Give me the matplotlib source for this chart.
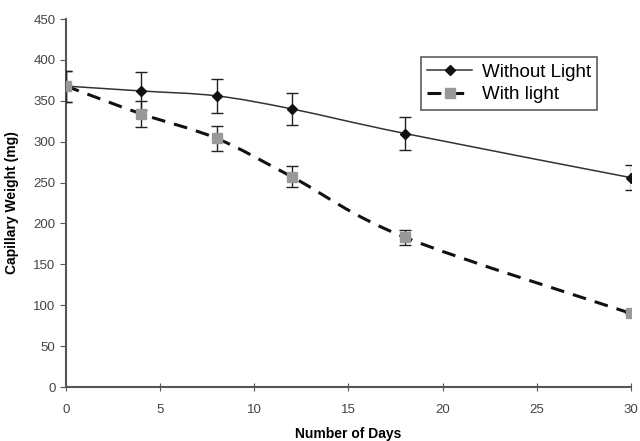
import matplotlib.pyplot as plt
import numpy as np
from matplotlib.path import Path
from matplotlib.patches import PathPatch

plt.rcParams['font.family'] = ['Liberation Sans', 'DejaVu Sans']

days = [0, 4, 8, 12, 18, 30]
without_light = [368, 362, 356, 340, 310, 256]
without_err = [19, 23, 21, 20, 20, 15]
with_light = [368, 334, 304, 257, 183, 90]
with_err = [19, 16, 15, 13, 9, 0]


def smooth_path(ax, x, y):
    """Excel-like smoothed line: cubic bezier through the data points"""
    pts = ax.transData.transform(np.column_stack([x, y]))
    verts = [pts[0]]
    codes = [Path.MOVETO]
    n = len(pts)
    t = 1.0 / 6
    for i in range(n - 1):
        p0 = pts[max(i - 1, 0)]
        p1 = pts[i]
        p2 = pts[i + 1]
        p3 = pts[min(i + 2, n - 1)]
        c1 = p1 + (p2 - p0) * t
        c2 = p2 - (p3 - p1) * t
        verts += [c1, c2, p2]
        codes += [Path.CURVE4] * 3
    return Path(verts, codes)


fig = plt.figure(figsize=(6.4, 4.41), dpi=100)
ax = fig.add_axes([0.103, 0.1224, 0.883, 0.8345])
ax.set_xlim(0, 30)
ax.set_ylim(0, 450)

# error bars
ax.errorbar(days, without_light, yerr=without_err, fmt='none', ecolor='#222222',
            elinewidth=1, capsize=4, capthick=1, zorder=3)
ax.errorbar(days, with_light, yerr=with_err, fmt='none', ecolor='#222222',
            elinewidth=1, capsize=4, capthick=1, zorder=3)

fig.canvas.draw()
p1 = PathPatch(smooth_path(ax, days, without_light), transform=None,
               fill=False, edgecolor='#333333', lw=1.1, zorder=4)
p2 = PathPatch(smooth_path(ax, days, with_light), transform=None,
               fill=False, edgecolor='#111111', lw=2.2, linestyle=(0, (4.5, 3)), zorder=4)
ax.add_patch(p1)
ax.add_patch(p2)

ax.plot(days, without_light, linestyle='none', marker='D', markersize=5.5,
        color='#111111', zorder=5)
ax.plot(days, with_light, linestyle='none', marker='s', markersize=7.5,
        color='#999999', zorder=5)

# legend handles
h1, = ax.plot([], [], color='#333333', lw=1.1, marker='D', markersize=5.5,
              markerfacecolor='#111111', markeredgecolor='#111111', label='Without Light')
h2, = ax.plot([], [], color='#111111', lw=2.2, linestyle=(0, (4.5, 3)), marker='s',
              markersize=7.5, markerfacecolor='#999999', markeredgecolor='#999999',
              label='With light')
leg = ax.legend(handles=[h1, h2], loc='upper left', bbox_to_anchor=(0.628, 0.897),
                borderaxespad=0, fontsize=13.5, frameon=True, fancybox=False,
                handlelength=2.4, borderpad=0.35, labelspacing=0.3, handletextpad=0.5)
leg.get_frame().set_edgecolor('#333333')
leg.get_frame().set_linewidth(1.2)

for s in ['top', 'right']:
    ax.spines[s].set_visible(False)
for s in ['left', 'bottom']:
    ax.spines[s].set_color('#555555')
    ax.spines[s].set_linewidth(1.5)

ax.set_xticks([0, 5, 10, 15, 20, 25, 30])
ax.set_yticks(range(0, 451, 50))
ax.tick_params(axis='x', direction='inout', length=6, color='#555555',
               labelsize=9.5, labelcolor='#444444', pad=9)
ax.tick_params(axis='y', direction='out', length=4, color='#555555',
               labelsize=9.5, labelcolor='#444444')

ax.set_xlabel('Number of Days', fontsize=10, fontweight='bold', labelpad=8)
ax.set_ylabel('Capillary Weight (mg)', fontsize=10, fontweight='bold', labelpad=10)

fig.savefig('out.png', dpi=100)
